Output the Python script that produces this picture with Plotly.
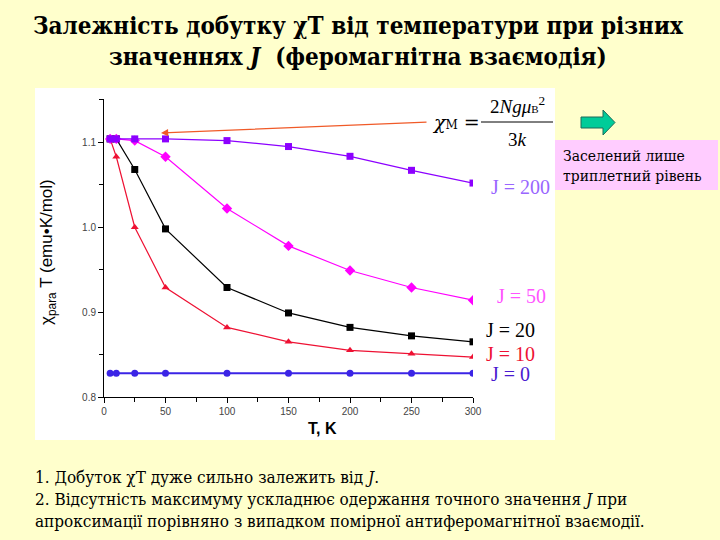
import plotly.graph_objects as go

W, H = 720, 540

T = [5, 10, 25, 50, 100, 150, 200, 250, 300]
chiT_J200 = [1.104, 1.104, 1.104, 1.104, 1.102, 1.095, 1.0835, 1.067, 1.052]
chiT_J50 = [1.104, 1.104, 1.102, 1.083, 1.022, 0.978, 0.949, 0.929, 0.914]
chiT_J20 = [1.104, 1.104, 1.068, 0.998, 0.929, 0.899, 0.882, 0.872, 0.865]
chiT_J10 = [1.104, 1.083, 1.000, 0.929, 0.882, 0.865, 0.855, 0.851, 0.847]
chiT_J0 = [0.828, 0.828, 0.828, 0.828, 0.828, 0.828, 0.828, 0.828, 0.828]

series_names = ["J = 0", "J = 10", "J = 20", "J = 50", "J = 200"]
x_ticks = [0, 50, 100, 150, 200, 250, 300]
y_ticks = [0.8, 0.9, 1.0, 1.1]

SERIF_CYR = "DejaVu Serif Condensed, Liberation Serif, serif"


def px(x, y):
    return x / W, 1 - y / H


fig = go.Figure()

styles = [
    (chiT_J0, series_names[0], "#3b24e6", "circle", 2.2, 7),
    (chiT_J10, series_names[1], "#ee1133", "triangle-up", 1.2, 7),
    (chiT_J20, series_names[2], "#000000", "square", 1.2, 7),
    (chiT_J50, series_names[3], "#ff00ff", "diamond", 1.2, 8),
    (chiT_J200, series_names[4], "#8c00ff", "square", 1.2, 7),
]
for vals, name, color, sym, lw, ms in styles:
    fig.add_trace(go.Scatter(
        x=T, y=vals, name=name, mode="lines+markers",
        line=dict(color=color, width=lw),
        marker=dict(symbol=sym, color=color, size=ms),
        showlegend=False, hoverinfo="skip",
    ))

# plot area pixel geometry
x0p, x1p = 104, 473
ytop, ybot = 99, 397

fig.update_layout(
    width=W, height=H,
    margin=dict(l=0, r=0, t=0, b=0, autoexpand=False),
    paper_bgcolor="#ffffcc",
    plot_bgcolor="rgba(0,0,0,0)",
    hovermode=False,
    xaxis=dict(
        domain=[x0p / W, x1p / W], range=[0, 300], automargin=False,
        tickvals=x_ticks, ticktext=[str(v) for v in x_ticks],
        ticks="outside", ticklen=5, tickcolor="#000", showline=True,
        linecolor="#000", linewidth=1, showgrid=False, zeroline=False,
        minor=dict(dtick=25, ticks="outside", ticklen=4, tickcolor="#000"),
        tickfont=dict(family="Liberation Sans, Arial", size=10, color="#444"),
    ),
    yaxis=dict(
        domain=[1 - ybot / H, 1 - ytop / H], range=[0.8, 1.151], automargin=False,
        tickvals=y_ticks, ticktext=["0.8", "0.9", "1.0", "1.1"],
        ticks="outside", ticklen=5, tickcolor="#000", showline=True,
        linecolor="#000", linewidth=1, showgrid=False, zeroline=False,
        minor=dict(dtick=0.05, ticks="outside", ticklen=4, tickcolor="#000"),
        tickfont=dict(family="Liberation Sans, Arial", size=10, color="#444"),
    ),
)

shapes = []
# white chart panel
ax0, ay0 = px(35, 88)
ax1, ay1 = px(555, 440)
shapes.append(dict(type="rect", xref="paper", yref="paper", x0=ax0, y0=ay1, x1=ax1, y1=ay0,
                   fillcolor="#ffffff", line=dict(width=0), layer="below"))
# pink box
bx0, by0 = px(555, 140)
bx1, by1 = px(718, 190)
shapes.append(dict(type="rect", xref="paper", yref="paper", x0=bx0, y0=by1, x1=bx1, y1=by0,
                   fillcolor="#ffccff", line=dict(width=0), layer="below"))
# fraction line
fx0, fy = px(481, 122)
fx1, _ = px(553, 122)
shapes.append(dict(type="line", xref="paper", yref="paper", x0=fx0, y0=fy, x1=fx1, y1=fy,
                   line=dict(color="#000", width=1)))
# green arrow
pts = [(581, 117), (603, 117), (603, 110), (615, 122.5), (603, 135), (603, 128), (581, 128)]
path = "M " + " L ".join(f"{px(a, b)[0]},{px(a, b)[1]}" for a, b in pts) + " Z"
shapes.append(dict(type="path", xref="paper", yref="paper", path=path,
                   fillcolor="#00cc99", line=dict(color="#1d6b5a", width=1)))
fig.update_layout(shapes=shapes)

ann = []
# title
tx, ty = px(358, 41)
ann.append(dict(xref="paper", yref="paper", x=tx, y=ty, showarrow=False,
                text="<b>Залежність добутку χT від температури при різних<br>значеннях <i>J</i>  (феромагнітна взаємодія)</b>",
                font=dict(family=SERIF_CYR, size=24, color="#000"),
                align="center", xanchor="center", yanchor="middle"))
# bottom text
bx, byy = px(33, 499)
ann.append(dict(xref="paper", yref="paper", x=bx, y=byy, showarrow=False,
                text="1. Добуток χT дуже сильно залежить від <i>J</i>.<br>"
                     "2. Відсутність максимуму ускладнює одержання точного значення <i>J</i> при<br>"
                     "апроксимації порівняно з випадком помірної антиферомагнітної взаємодії.",
                font=dict(family=SERIF_CYR, size=17, color="#000"),
                align="left", xanchor="left", yanchor="middle"))
# y axis title
yx, yy = px(48, 252)
ann.append(dict(xref="paper", yref="paper", x=yx, y=yy, showarrow=False, textangle=-90,
                text="χ<sub>para</sub> T (emu•K/mol)",
                font=dict(family="Liberation Sans, Arial", size=17, color="#000"),
                xanchor="center", yanchor="middle"))
# x axis title
xx, xy = px(322, 428)
ann.append(dict(xref="paper", yref="paper", x=xx, y=xy, showarrow=False,
                text="<b>T, K</b>",
                font=dict(family="Liberation Sans, Arial", size=16, color="#000"),
                xanchor="center", yanchor="middle"))
# series labels
label_pos = [
    ("J = 200", "#9966ff", 489, 187),
    ("J = 50", "#ff55ff", 495, 296),
    ("J = 20", "#000000", 484, 330),
    ("J = 10", "#ee1133", 484, 354),
    ("J = 0", "#4a1ad0", 489, 374),
]
for txt, col, lx, ly in label_pos:
    a, b = px(lx, ly)
    ann.append(dict(xref="paper", yref="paper", x=a, y=b, showarrow=False, text=txt,
                    font=dict(family="Liberation Serif", size=20, color=col),
                    xanchor="left", yanchor="middle"))
# formula
f1x, f1y = px(456, 122)
ann.append(dict(xref="paper", yref="paper", x=f1x, y=f1y, showarrow=False,
                text="<i>χ</i><span style='font-size:12px'>M</span> =",
                font=dict(family="DejaVu Serif, Liberation Serif", size=19, color="#000"),
                xanchor="center", yanchor="middle"))
f2x, f2y = px(517, 105)
ann.append(dict(xref="paper", yref="paper", x=f2x, y=f2y, showarrow=False,
                text="2<i>Ngμ</i><span style='font-size:11px'>B</span><sup>2</sup>",
                font=dict(family="Liberation Serif", size=19, color="#000"),
                xanchor="center", yanchor="middle"))
f3x, f3y = px(517, 139)
ann.append(dict(xref="paper", yref="paper", x=f3x, y=f3y, showarrow=False,
                text="3<i>k</i>",
                font=dict(family="Liberation Serif", size=19, color="#000"),
                xanchor="center", yanchor="middle"))
# orange arrow from formula to curve
hx, hy = px(161, 133)
ann.append(dict(xref="paper", yref="paper", axref="pixel", ayref="pixel",
                x=hx, y=hy, ax=428 - 161, ay=122 - 133, text="", showarrow=True,
                arrowhead=2, arrowsize=1.2, arrowwidth=1.2, arrowcolor="#f05a28"))
# pink box text
pbx, pby = px(561, 166)
ann.append(dict(xref="paper", yref="paper", x=pbx, y=pby, showarrow=False,
                text="Заселений лише<br>триплетний рівень",
                font=dict(family=SERIF_CYR, size=15.5, color="#000"),
                align="left", xanchor="left", yanchor="middle"))
fig.update_layout(annotations=ann)

fig.write_html("out.html", config={"displayModeBar": False},
               post_script="document.body.style.margin='0';document.body.style.background='#ffffcc';")
